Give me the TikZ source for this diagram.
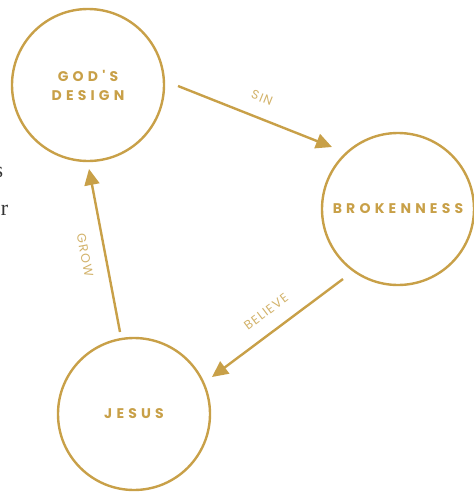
\documentclass[tikz,border=0pt]{standalone}
\usepackage{fontspec}
\setmainfont{Liberation Serif}
\newfontfamily\capsfont[LetterSpace=30]{Poppins}
\newfontfamily\labfont[LetterSpace=10]{Poppins}
\usetikzlibrary{arrows.meta}
\definecolor{gold}{HTML}{C8A048}
\definecolor{lightgold}{HTML}{D2B26A}
\tikzset{
  stage/.style={circle, draw=gold, line width=2.4pt, minimum size=152pt, inner sep=0pt, outer sep=0pt,
    text=gold, font=\capsfont\bfseries\fontsize{14}{19}\selectfont, align=center},
  flow/.style={draw=gold, line width=2.4pt, -{Triangle[length=16pt,width=15pt]}},
  flowlab/.style={text=lightgold, font=\labfont\fontsize{12.5}{14}\selectfont, inner sep=0pt},
  edgetext/.style={font=\fontsize{22}{24}\selectfont, text=black!80, inner sep=0pt, anchor=east}
}
\begin{document}
\begin{tikzpicture}[x=1pt,y=-1pt]
\useasboundingbox (0,0) rectangle (474,493);
\begin{scope}
\clip (0,0) rectangle (474,493);
\node[edgetext] (fs) at (3.5,172) {s};
\node[edgetext] (fr) at (8.5,210) {r};
\end{scope}
\node[stage] (god) at (88,85) {GOD'S\\DESIGN};
\node[stage] (brok) at (398,209) {BROKENNESS};
\node[stage] (jes) at (134,414) {JESUS};
\coordinate (s1) at (178,86);
\coordinate (e1) at (332,147);
\coordinate (s2) at (343,279);
\coordinate (e2) at (212,377);
\coordinate (s3) at (120,332);
\coordinate (e3) at (89,169);
\draw[flow] (s1) -- (e1);
\draw[flow] (s2) -- (e2);
\draw[flow] (s3) -- (e3);
\node[flowlab, rotate=-22] (lsin) at (262,98) {SIN};
\node[flowlab, rotate=37] (lbel) at (266,312) {BELIEVE};
\node[flowlab, rotate=-79] (lgrow) at (85,255) {GROW};
\end{tikzpicture}
\end{document}
